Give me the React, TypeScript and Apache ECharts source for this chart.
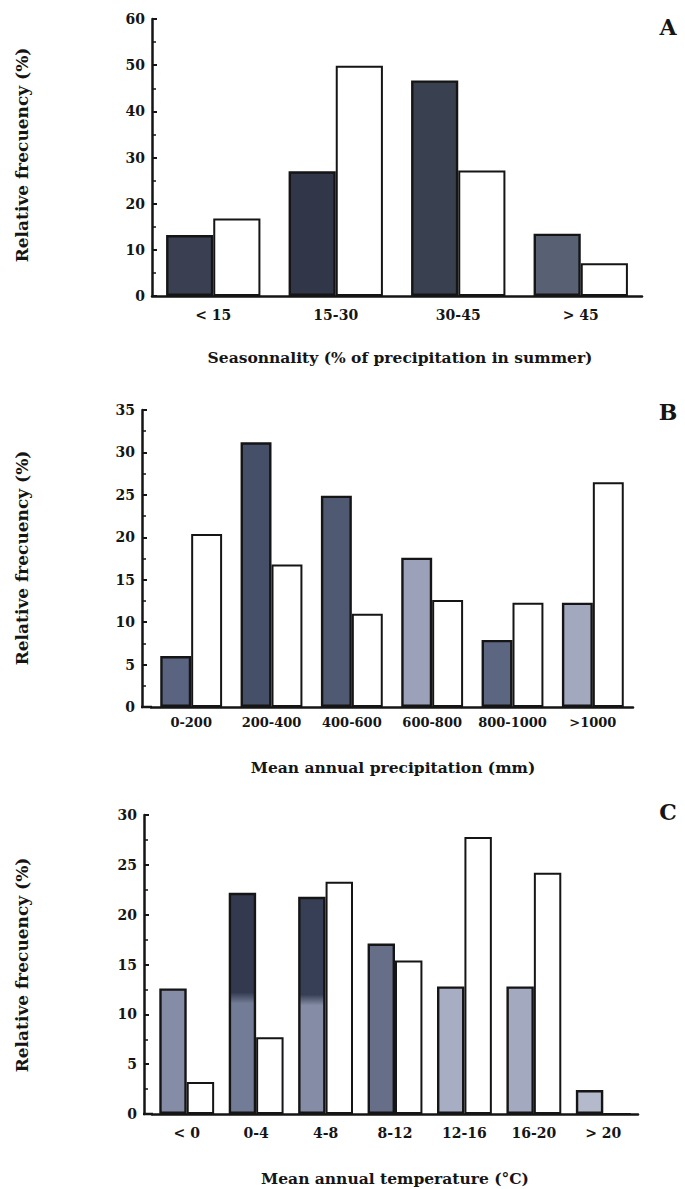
import React, { useEffect, useRef } from "react";
import * as echarts from "echarts";

// ---- Data ----
const catsA = ["< 15", "15-30", "30-45", "> 45"];
const darkA = [13.2, 27.0, 46.7, 13.5];
const whiteA = [16.8, 49.9, 27.2, 7.1];

const catsB = ["0-200", "200-400", "400-600", "600-800", "800-1000", ">1000"];
const darkB = [6.0, 31.2, 24.9, 17.6, 7.9, 12.3];
const whiteB = [20.4, 16.8, 11.0, 12.6, 12.3, 26.5];

const catsC = ["< 0", "0-4", "4-8", "8-12", "12-16", "16-20", "> 20"];
const darkC = [12.6, 22.2, 21.8, 17.1, 12.8, 12.8, 2.4];
const whiteC = [3.2, 7.7, 23.3, 15.4, 27.8, 24.2, 0];

const yMax = [60, 35, 30];
const yStep = [10, 5, 5];
const xTitles = [
  "Seasonnality (% of precipitation in summer)",
  "Mean annual precipitation (mm)",
  "Mean annual temperature (°C)",
];
const yTitle = "Relative frecuency (%)";
const panelLetters = ["A", "B", "C"];

// ---- Styles ----
const FONT = "DejaVu Serif";
const INK = "#151515";

const grad = (dark: string, light: string, at: number) => ({
  type: "linear", x: 0, y: 0, x2: 0, y2: 1,
  colorStops: [
    { offset: 0, color: dark },
    { offset: at, color: dark },
    { offset: at + 0.05, color: light },
    { offset: 1, color: light },
  ],
});

const colorsA = ["#3a4051", "#313748", "#394050", "#586073"];
const colorsB = ["#5a6480", "#464f68", "#505972", "#9aa1b8", "#5c6680", "#a2a8be"];
const colorsC: any[] = [
  "#858da6",
  grad("#333a50", "#737c96", 0.45),
  grad("#373f56", "#858da6", 0.45),
  "#666e88",
  "#a7adc2",
  "#a3a9bf",
  "#b4b9cb",
];

// layout: [gridLeft, gridTop, gridWidth, gridHeight, yAxisOffset, labelMargin, labelSize]
const layouts = [
  [152, 19, 490, 277, 0, 12, 14],
  [151, 410, 482, 297, 9, 9, 13],
  [152, 815, 486, 299, 8, 12, 14],
];

export default function App() {
  const ref = useRef<HTMLDivElement>(null);
  useEffect(() => {
    document.body.style.margin = "0";
    const chart = echarts.init(ref.current!, null, { renderer: "svg" });
    const cats = [catsA, catsB, catsC];
    const darks = [darkA, darkB, darkC];
    const whites = [whiteA, whiteB, whiteC];
    const colors = [colorsA, colorsB, colorsC];
    const gaps = ["23%", "23%", "21%"];

    const grid = layouts.map((l) => ({ left: l[0], top: l[1], width: l[2], height: l[3] }));
    const xAxis = layouts.map((l, i) => ({
      type: "category",
      gridIndex: i,
      data: cats[i],
      axisLine: { show: true, lineStyle: { color: INK, width: 2.5 } },
      axisTick: { show: false },
      axisLabel: {
        interval: 0,
        hideOverlap: false,
        fontFamily: FONT, fontWeight: "bold", fontSize: l[6], color: INK, margin: l[5],
      },
    }));
    const yAxis = layouts.map((l, i) => ({
      type: "value",
      gridIndex: i,
      min: 0,
      max: yMax[i],
      interval: yStep[i],
      offset: l[4],
      axisLine: { show: true, lineStyle: { color: INK, width: 2.5 } },
      axisTick: { show: true, inside: true, length: 5, lineStyle: { color: INK, width: 2 } },
      minorTick: { show: true, splitNumber: 2, length: 4, lineStyle: { color: INK, width: 1.5 } },
      splitLine: { show: false },
      axisLabel: { fontFamily: FONT, fontWeight: "bold", fontSize: 14, color: INK, margin: 7 },
    }));
    const series: any[] = [];
    layouts.forEach((_, i) => {
      series.push({
        type: "bar",
        xAxisIndex: i,
        yAxisIndex: i,
        barGap: "0%",
        barCategoryGap: gaps[i],
        data: darks[i].map((v, k) => ({ value: v, itemStyle: { color: colors[i][k] } })),
        itemStyle: { borderColor: INK, borderWidth: 2.4 },
      });
      series.push({
        type: "bar",
        xAxisIndex: i,
        yAxisIndex: i,
        barGap: "0%",
        barCategoryGap: gaps[i],
        data: whites[i],
        itemStyle: { color: "#ffffff", borderColor: INK, borderWidth: 2 },
      });
    });

    const titleCenters = [[400, 357], [393, 767], [395, 1178]];
    const yTitleCenters = [[22, 155], [22, 558], [22, 965]];
    const letterPos = [[668, 27], [668, 412], [668, 812]];
    const graphic: any[] = [];
    layouts.forEach((l, i) => {
      graphic.push({
        type: "text",
        x: titleCenters[i][0],
        y: titleCenters[i][1],
        style: {
          text: xTitles[i], fontFamily: FONT, fontWeight: "bold", fontSize: 15.5, fill: INK,
          textAlign: "center", textVerticalAlign: "middle",
        },
      });
      graphic.push({
        type: "text",
        x: yTitleCenters[i][0],
        y: yTitleCenters[i][1],
        rotation: Math.PI / 2,
        style: {
          text: yTitle, fontFamily: FONT, fontWeight: "bold", fontSize: 17, fill: INK,
          textAlign: "center", textVerticalAlign: "middle",
        },
      });
      graphic.push({
        type: "text",
        x: letterPos[i][0],
        y: letterPos[i][1],
        style: {
          text: panelLetters[i], fontFamily: FONT, fontWeight: "bold", fontSize: 22, fill: INK,
          textAlign: "center", textVerticalAlign: "middle",
        },
      });
      if (l[4] > 0) {
        const y0 = l[1] + l[3];
        graphic.push({
          type: "line",
          shape: { x1: l[0] - l[4] - 1, y1: y0, x2: l[0] + 1, y2: y0 },
          style: { stroke: INK, lineWidth: 2.5 },
        });
      }
    });

    chart.setOption({
      animation: false,
      backgroundColor: "#ffffff",
      grid,
      xAxis,
      yAxis,
      series,
      graphic,
    });
    return () => chart.dispose();
  }, []);
  return <div ref={ref} style={{ width: 685, height: 1189 }} />;
}
